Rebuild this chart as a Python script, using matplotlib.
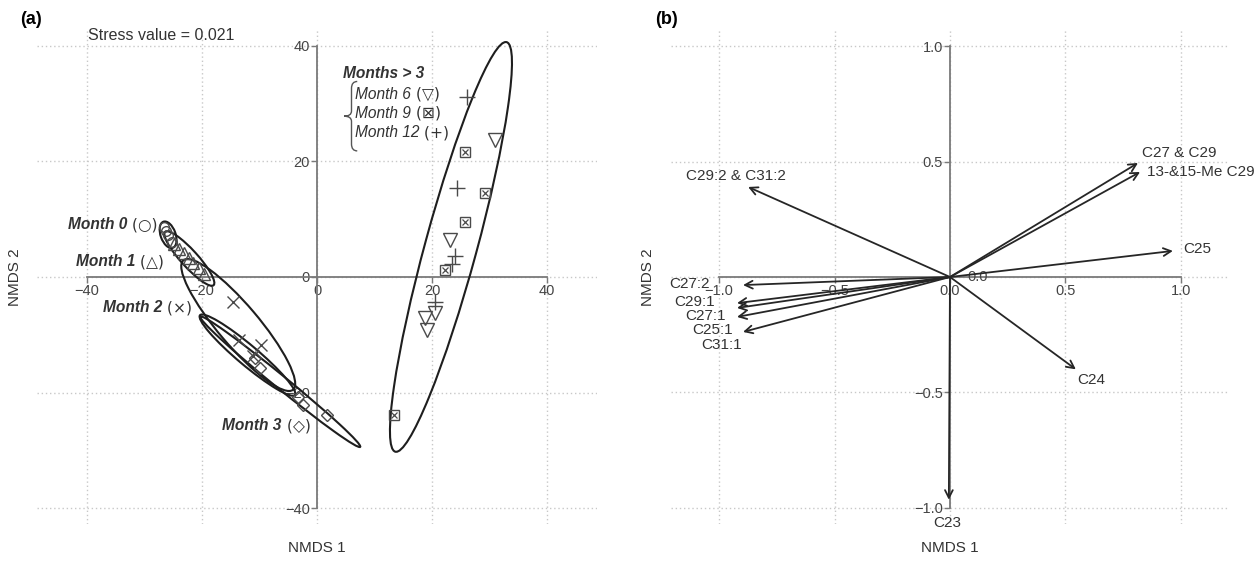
import numpy as np
import matplotlib
matplotlib.use("Agg")
import matplotlib.pyplot as plt
from matplotlib.patches import Ellipse, PathPatch
from matplotlib.path import Path

plt.rcParams['font.family'] = ['Liberation Sans', 'DejaVu Sans']

# ---- panel (a): NMDS sample scores ----
month0_x = [-26.6, -25.9, -25.3, -26.2]
month0_y = [8.6, 7.2, 6.0, 7.9]
month1_x = [-24.9, -24.0, -23.2, -22.3, -21.5, -20.6, -19.6]
month1_y = [5.7, 4.9, 4.1, 3.2, 2.4, 1.5, 0.5]
month2_x = [-14.6, -13.6, -9.7, -11.2]
month2_y = [-4.3, -10.9, -11.7, -13.6]
month3_x = [-10.8, -9.9, -3.3, -2.4, 1.7]
month3_y = [-14.0, -15.7, -20.7, -22.1, -23.8]
month6_x = [31.0, 23.1, 20.5, 18.8, 19.1]
month6_y = [23.7, 6.4, -6.2, -7.1, -9.2]
month9_x = [25.7, 29.2, 25.7, 22.3, 13.4]
month9_y = [21.6, 14.5, 9.5, 1.2, -23.8]
month12_x = [26.1, 24.3, 24.0, 23.5, 20.5]
month12_y = [31.1, 15.4, 3.6, 2.3, -4.3]

# group ellipses: centre, full axes, angle (deg)
ell_cx = [-25.9, -22.2, -13.7, -12.1, -6.4, 23.3]
ell_cy = [7.3, 3.2, -8.3, -13.5, -18.1, 5.2]
ell_w = [4.8, 12.5, 29.4, 21.5, 35.8, 73.4]
ell_h = [2.6, 2.9, 7.0, 3.5, 2.2, 9.0]
ell_ang = [-70, -47.6, -49.5, -39.9, -39.0, 74.7]

# ---- panel (b): fitted variable vectors ----
vec_names = ["C29:2 & C31:2", "C27 & C29", "13-&15-Me C29", "C25", "C24", "C23",
             "C27:2", "C29:1", "C27:1", "C25:1", "C31:1"]
vec_x = [-0.874, 0.814, 0.823, 0.965, 0.545, -0.005,
         -0.896, -0.922, -0.922, -0.922, -0.896]
vec_y = [0.390, 0.494, 0.455, 0.113, -0.400, -0.965,
         -0.035, -0.113, -0.134, -0.173, -0.238]
lab_x = [-0.926, 0.831, 0.853, 1.009, 0.550, -0.013,
         -1.126, -1.105, -1.060, -1.030, -0.987]
lab_y = [0.437, 0.537, 0.455, 0.121, -0.446, -1.065,
         -0.030, -0.108, -0.167, -0.229, -0.294]
lab_ha = ["center", "left", "left", "left", "left", "center",
          "center", "center", "center", "center", "center"]

TXT = "#333333"
AX = "#7a7a7a"
MK = "#4a4a4a"

W, H = 1258, 561
fig = plt.figure(figsize=(W / 100, H / 100), dpi=100)


def px_axes(x0, x1, y0, y1):
    return fig.add_axes([x0 / W, 1 - y1 / H, (x1 - x0) / W, (y1 - y0) / H])


def style_axes(ax, ticks, labels):
    for s in ["top", "right"]:
        ax.spines[s].set_visible(False)
    ax.spines["left"].set_position("zero")
    ax.spines["bottom"].set_position("zero")
    for s in ["left", "bottom"]:
        ax.spines[s].set_color(AX)
        ax.spines[s].set_linewidth(1.3)
        ax.spines[s].set_bounds(ticks[0], ticks[-1])
    ax.set_xticks(ticks)
    ax.set_yticks(ticks)
    ax.set_xticklabels(labels)
    ax.set_yticklabels(labels)
    ax.tick_params(direction="out", length=4, width=1, color=AX,
                   labelsize=10.5, labelcolor="#444444", pad=1)
    ax.grid(True, color="#c8c8c8", linestyle=(0, (1, 2)), linewidth=1)
    ax.set_axisbelow(True)
    ax.set_facecolor("white")


# ---------------- panel (a) ----------------
ax1 = px_axes(37, 597, 30, 524)
ax1.set_xlim(-48.7, 48.7)
ax1.set_ylim(-42.7, 42.7)
style_axes(ax1, [-40, -20, 0, 20, 40], ["\u221240", "\u221220", "0", "20", "40"])

for cx, cy, w, h, a in zip(ell_cx, ell_cy, ell_w, ell_h, ell_ang):
    ax1.add_patch(Ellipse((cx, cy), w, h, angle=a, fill=False,
                          edgecolor="#1e1e1e", linewidth=1.5, zorder=3))

mk = dict(linestyle="none", color=MK, markerfacecolor="none", zorder=4)
ax1.plot(month0_x, month0_y, marker="o", markersize=7, markeredgewidth=1, **mk)
ax1.plot(month1_x, month1_y, marker="^", markersize=8, markeredgewidth=1, **mk)
ax1.plot(month2_x, month2_y, marker="x", markersize=9, markeredgewidth=1, **mk)
ax1.plot(month3_x, month3_y, marker="D", markersize=6, markeredgewidth=1, **mk)
ax1.plot(month6_x, month6_y, marker="v", markersize=10, markeredgewidth=1, **mk)
ax1.plot(month9_x, month9_y, marker="s", markersize=7, markeredgewidth=1, **mk)
ax1.plot(month9_x, month9_y, marker="x", markersize=5, markeredgewidth=0.9, **mk)
ax1.plot(month12_x, month12_y, marker="+", markersize=12, markeredgewidth=1, **mk)

ax1.text(-39.8, 41.8, "Stress value = 0.021", fontsize=11.5, color=TXT,
         ha="left", va="center")


def month_label(ax, x, y, name, sym, bold=True, size=11.2):
    t = ax.text(x, y, name, fontsize=size, color=TXT, ha="left", va="center",
                fontstyle="italic", fontweight="bold" if bold else "normal")
    ax.annotate(" (" + sym + ")", xy=(1, 0.5), xycoords=t, fontsize=size,
                color=TXT, ha="left", va="center",
                family=["DejaVu Sans"])


month_label(ax1, -43.3, 9.0, "Month 0", "\u25cb")
month_label(ax1, -41.9, 2.6, "Month 1", "\u25b3")
month_label(ax1, -37.2, -5.35, "Month 2", "\u00d7")
month_label(ax1, -16.5, -25.7, "Month 3", "\u25c7")
ax1.text(4.5, 35.2, "Months > 3", fontsize=11.2, color=TXT, ha="left",
         va="center", fontstyle="italic", fontweight="bold")
month_label(ax1, 6.6, 31.6, "Month 6", "\u25bd", bold=False)
month_label(ax1, 6.6, 28.3, "Month 9", "\u22a0", bold=False)
month_label(ax1, 6.6, 24.9, "Month 12", "+", bold=False)

# curly brace grouping the later months
bx, tip, top, bot = 6.0, 4.7, 33.8, 21.8
mid = (top + bot) / 2
verts = [(7.0, top), (bx, top), (bx, top - 1.2),
         (bx, mid + 0.9), (bx, mid), (tip, mid),
         (bx, mid), (bx, mid - 0.9),
         (bx, bot + 1.2), (bx, bot), (7.0, bot)]
codes = [Path.MOVETO, Path.CURVE3, Path.CURVE3,
         Path.LINETO, Path.CURVE3, Path.CURVE3,
         Path.CURVE3, Path.CURVE3,
         Path.LINETO, Path.CURVE3, Path.CURVE3]
ax1.add_patch(PathPatch(Path(verts, codes), fill=False, edgecolor="#555555",
                        linewidth=1))

# ---------------- panel (b) ----------------
ax2 = px_axes(671, 1229, 30, 524)
ax2.set_xlim(-1.208, 1.208)
ax2.set_ylim(-1.07, 1.07)
style_axes(ax2, [-1.0, -0.5, 0.0, 0.5, 1.0],
           ["\u22121.0", "\u22120.5", "0.0", "0.5", "1.0"])
ax2.set_yticklabels(["\u22121.0", "\u22120.5", "", "0.5", "1.0"])
ax2.text(0.12, 0.0, "0.0", fontsize=10.5, color="#444444", ha="center", va="center")

for vx, vy, name, lx, ly, ha in zip(vec_x, vec_y, vec_names, lab_x, lab_y, lab_ha):
    ax2.annotate("", xy=(vx, vy), xytext=(0, 0),
                 arrowprops=dict(arrowstyle="->,head_length=0.55,head_width=0.28",
                                 color="#262626", lw=1.3, shrinkA=0, shrinkB=0),
                 zorder=4)
    ax2.text(lx, ly, name, fontsize=11, color=TXT, ha=ha, va="center", zorder=5)

# panel letters and axis titles
fig.text(20 / W, 1 - 20 / H, "(a)", fontsize=13, fontweight="bold", ha="left", va="center")
fig.text(655 / W, 1 - 20 / H, "(b)", fontsize=13, fontweight="bold", ha="left", va="center")
fig.text(317 / W, 1 - 548 / H, "NMDS 1", fontsize=11, color=TXT, ha="center", va="center")
fig.text(950 / W, 1 - 548 / H, "NMDS 1", fontsize=11, color=TXT, ha="center", va="center")
fig.text(15 / W, 1 - 277 / H, "NMDS 2", fontsize=11, color=TXT, ha="center",
         va="center", rotation=90)
fig.text(648 / W, 1 - 277 / H, "NMDS 2", fontsize=11, color=TXT, ha="center",
         va="center", rotation=90)

fig.savefig("out.png", dpi=100, facecolor="white")
